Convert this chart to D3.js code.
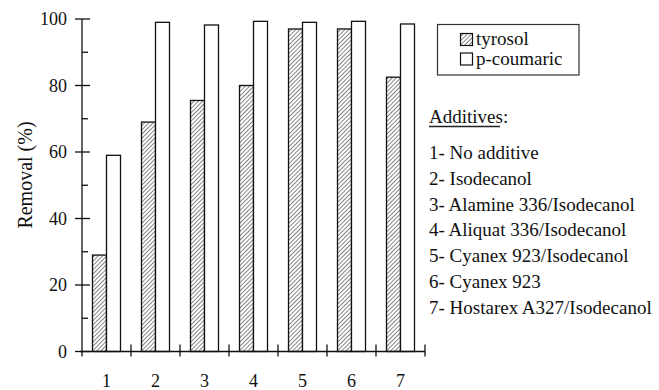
<!DOCTYPE html>
<html>
<head>
<meta charset="utf-8">
<script src="https://d3js.org/d3.v7.min.js"></script>
<style>
  body { margin: 0; background: #fff; }
  text { font-family: "Liberation Serif", "Times New Roman", serif; fill: #111; }
</style>
</head>
<body>
<div id="chart"></div>
<script>
// data
var categories = ["1", "2", "3", "4", "5", "6", "7"];
var seriesNames = ["tyrosol", "p-coumaric"];
var tyrosol = [29, 69, 75.5, 80, 97, 97, 82.5];
var pCoumaric = [59, 99, 98.2, 99.3, 99, 99.3, 98.5];
var yTicks = [0, 20, 40, 60, 80, 100];
var yMinor = [10, 30, 50, 70, 90];
var additives = [
  "1- No additive",
  "2- Isodecanol",
  "3- Alamine 336/Isodecanol",
  "4- Aliquat 336/Isodecanol",
  "5- Cyanex 923/Isodecanol",
  "6- Cyanex 923",
  "7- Hostarex A327/Isodecanol"
];

var width = 659, height = 390;
var svg = d3.select("#chart").append("svg")
  .attr("width", width)
  .attr("height", height);

// hatch pattern for tyrosol
var defs = svg.append("defs");
var pat = defs.append("pattern")
  .attr("id", "hatch")
  .attr("patternUnits", "userSpaceOnUse")
  .attr("width", 3).attr("height", 3)
  .attr("patternTransform", "rotate(45)");
pat.append("rect").attr("width", 3).attr("height", 3).attr("fill", "#fff");
pat.append("line")
  .attr("x1", 0).attr("y1", 0).attr("x2", 0).attr("y2", 3)
  .attr("stroke", "#333").attr("stroke-width", 1.2);

var x0 = d3.scaleBand().domain(categories).range([82, 425]).padding(0);
var x1 = d3.scaleBand().domain(seriesNames).range([10.5, 38.5]).padding(0);
var y = d3.scaleLinear().domain([0, 100]).range([351.5, 19]);

var rows = categories.map(function(c, i) {
  return { cat: c, values: [
    { key: "tyrosol", v: tyrosol[i] },
    { key: "p-coumaric", v: pCoumaric[i] }
  ]};
});

// bars
var groups = svg.append("g").selectAll("g")
  .data(rows).enter().append("g")
  .attr("transform", function(d) { return "translate(" + x0(d.cat) + ",0)"; });

groups.selectAll("rect")
  .data(function(d) { return d.values; })
  .enter().append("rect")
  .attr("x", function(d) { return x1(d.key); })
  .attr("y", function(d) { return y(d.v); })
  .attr("width", x1.bandwidth())
  .attr("height", function(d) { return y(0) - y(d.v); })
  .attr("fill", function(d) { return d.key == "tyrosol" ? "url(#hatch)" : "#fff"; })
  .attr("stroke", "#111")
  .attr("stroke-width", 1.3);

// y axis
var yAxis = svg.append("g").attr("transform", "translate(82,0)");
yAxis.append("line").attr("x1", 0).attr("x2", 0)
  .attr("y1", y(100)).attr("y2", y(0) + 5)
  .attr("stroke", "#111").attr("stroke-width", 1.3);
yAxis.selectAll(".major").data(yTicks).enter().append("line")
  .attr("x1", -7).attr("x2", 8)
  .attr("y1", function(d) { return y(d); }).attr("y2", function(d) { return y(d); })
  .attr("stroke", "#111").attr("stroke-width", 1.3);
yAxis.selectAll(".minor").data(yMinor).enter().append("line")
  .attr("x1", 0).attr("x2", 6)
  .attr("y1", function(d) { return y(d); }).attr("y2", function(d) { return y(d); })
  .attr("stroke", "#111").attr("stroke-width", 1.3);
yAxis.selectAll(".lab").data(yTicks).enter().append("text")
  .attr("x", -15)
  .attr("y", function(d) { return y(d); })
  .attr("dy", "0.34em")
  .attr("text-anchor", "end")
  .style("font-size", "18px")
  .text(function(d) { return d; });

svg.append("text")
  .attr("transform", "translate(32,175) rotate(-90)")
  .attr("text-anchor", "middle")
  .style("font-size", "20px")
  .text("Removal (%)");

// x axis
var xAxis = svg.append("g");
xAxis.append("line")
  .attr("x1", 80).attr("x2", 425)
  .attr("y1", y(0)).attr("y2", y(0))
  .attr("stroke", "#111").attr("stroke-width", 1.3);
var bounds = categories.map(function(c) { return x0(c); }).concat([x0.range()[1]]);
xAxis.selectAll(".tick").data(bounds.slice(1)).enter().append("line")
  .attr("x1", function(d) { return d; }).attr("x2", function(d) { return d; })
  .attr("y1", y(0) - 7).attr("y2", y(0) + 5)
  .attr("stroke", "#111").attr("stroke-width", 1.3);
xAxis.selectAll(".lab").data(categories).enter().append("text")
  .attr("x", function(d) { return x0(d) + x0.bandwidth() / 2; })
  .attr("y", 386.5)
  .attr("text-anchor", "middle")
  .style("font-size", "18px")
  .text(function(d) { return d; });

// legend box
var leg = svg.append("g");
leg.append("rect")
  .attr("x", 437.5).attr("y", 24.5)
  .attr("width", 141.5).attr("height", 50.5)
  .attr("fill", "#fff").attr("stroke", "#333").attr("stroke-width", 1.2);
seriesNames.forEach(function(s, i) {
  var yy = 33.5 + i * 19.5;
  leg.append("rect")
    .attr("x", 460.5).attr("y", yy)
    .attr("width", 12).attr("height", 12)
    .attr("fill", i == 0 ? "url(#hatch)" : "#fff")
    .attr("stroke", "#111").attr("stroke-width", 1.2);
  leg.append("text")
    .attr("x", 476).attr("y", yy + 11.5)
    .style("font-size", "19px")
    .text(s);
});

// additives list
svg.append("text")
  .attr("x", 429).attr("y", 122.5)
  .style("font-size", "19px")
  .text("Additives:");
svg.append("line")
  .attr("x1", 429).attr("x2", 500)
  .attr("y1", 126.5).attr("y2", 126.5)
  .attr("stroke", "#222").attr("stroke-width", 1.3);
svg.selectAll(".add").data(additives).enter().append("text")
  .attr("x", 429)
  .attr("y", function(d, i) { return 159.3 + i * 25.7; })
  .style("font-size", "19px")
  .text(function(d) { return d; });
</script>
</body>
</html>
